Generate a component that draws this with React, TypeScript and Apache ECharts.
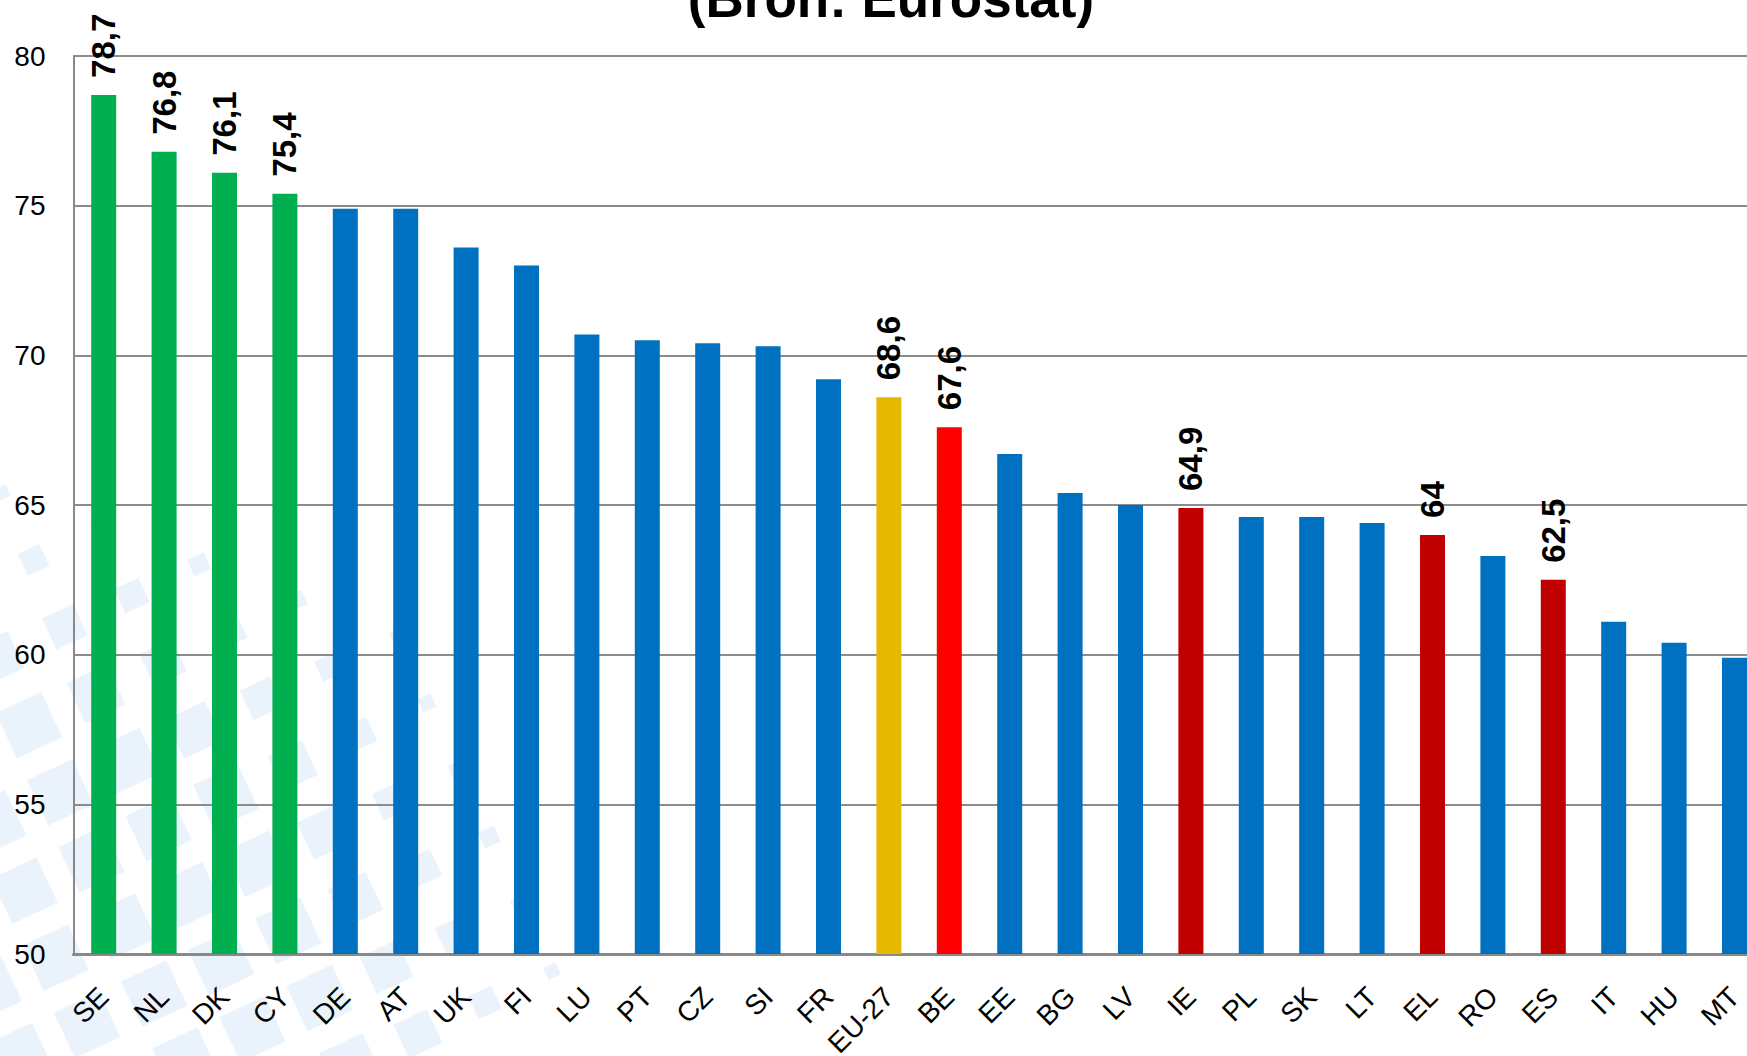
import React, { useEffect, useRef } from "react";
import * as echarts from "echarts";

const categories = ["SE","NL","DK","CY","DE","AT","UK","FI","LU","PT","CZ","SI","FR","EU-27","BE","EE","BG","LV","IE","PL","SK","LT","EL","RO","ES","IT","HU","MT"];
const values = [78.7,76.8,76.1,75.4,74.9,74.9,73.6,73.0,70.7,70.5,70.4,70.3,69.2,68.6,67.6,66.7,65.4,65.0,64.9,64.6,64.6,64.4,64.0,63.3,62.5,61.1,60.4,59.9];
const barColors = ["#00B050","#00B050","#00B050","#00B050","#0070C0","#0070C0","#0070C0","#0070C0","#0070C0","#0070C0","#0070C0","#0070C0","#0070C0","#E6B800","#FF0000","#0070C0","#0070C0","#0070C0","#C00000","#0070C0","#0070C0","#0070C0","#C00000","#0070C0","#C00000","#0070C0","#0070C0","#0070C0"];
const labelled = ["SE","NL","DK","CY","EU-27","BE","IE","EL","ES"];
const yTicks = { min: 50, max: 80, interval: 5 };
const titleText = "(Bron: Eurostat)";

const FONT = "'Liberation Sans', Arial, sans-serif";

function decoration(W: number, H: number) {
  const els: any[] = [];
  const theta = (25 * Math.PI) / 180;
  const pitch = 74;
  const ux = Math.cos(theta) * pitch, uy = -Math.sin(theta) * pitch;
  const vx = Math.sin(theta) * pitch, vy = Math.cos(theta) * pitch;
  for (let i = -6; i < 20; i++) {
    for (let j = -20; j < 6; j++) {
      const cx = i * ux + j * vx + 20;
      const cy = H + i * uy + j * vy;
      if (cx < -60 || cy > H + 60 || cy < 300) continue;
      const d = Math.sqrt(cx * cx + (H - cy) * (H - cy));
      const f = 1 - Math.max(0, d - 340) / 300;
      if (f <= 0.2) continue;
      const s = 50 * Math.min(1, f);
      els.push({
        type: "rect",
        z: -10,
        silent: true,
        x: cx,
        y: cy,
        rotation: theta,
        shape: { x: -s / 2, y: -s / 2, width: s, height: s },
        style: { fill: "#EAF3FB" },
      });
    }
  }
  return els;
}

export default function App() {
  const ref = useRef<HTMLDivElement>(null);
  useEffect(() => {
    if (!ref.current) return;
    const chart = echarts.init(ref.current, null, { renderer: "svg" });
    const W = 1747, H = 1056;
    const data = values.map((v, i) => ({
      value: v,
      itemStyle: { color: barColors[i] },
      label: { show: labelled.includes(categories[i]) },
    }));
    chart.setOption({
      animation: false,
      backgroundColor: "#ffffff",
      graphic: [
        ...decoration(W, H),
        {
          type: "text",
          z: 10,
          x: 891,
          y: -2,
          style: {
            text: titleText,
            font: `bold 53px ${FONT}`,
            fill: "#000",
            textAlign: "center",
            textVerticalAlign: "middle",
          },
        },
      ],
      grid: {
        left: 73.5,
        width: 1691.2,
        top: 56,
        bottom: 102,
        containLabel: false,
        outerBoundsMode: "none",
      },
      xAxis: {
        type: "category",
        data: categories,
        axisTick: { show: false },
        axisLine: { show: true, lineStyle: { color: "#898989", width: 3 } },
        axisLabel: {
          interval: 0,
          rotate: 45,
          margin: 38,
          color: "#000",
          fontSize: 28,
          fontFamily: FONT,
        },
        splitLine: { show: false },
      },
      yAxis: {
        type: "value",
        min: yTicks.min,
        max: yTicks.max,
        interval: yTicks.interval,
        axisLine: { show: true, lineStyle: { color: "#898989", width: 2 } },
        axisTick: { show: false },
        axisLabel: { color: "#000", fontSize: 28, fontFamily: FONT, margin: 28 },
        splitLine: { show: true, lineStyle: { color: "#8C8C8C", width: 2 } },
      },
      series: [
        {
          type: "bar",
          data,
          barWidth: 25,
          label: {
            position: "top",
            rotate: 90,
            align: "left",
            verticalAlign: "middle",
            distance: 17,
            color: "#000",
            fontSize: 33,
            fontWeight: "bold",
            fontFamily: FONT,
            formatter: (p: any) => String(p.value).replace(".", ","),
          },
        },
      ],
    });
    return () => chart.dispose();
  }, []);
  return <div ref={ref} style={{ width: 1747, height: 1056, position: "absolute", left: 0, top: 0 }} />;
}
